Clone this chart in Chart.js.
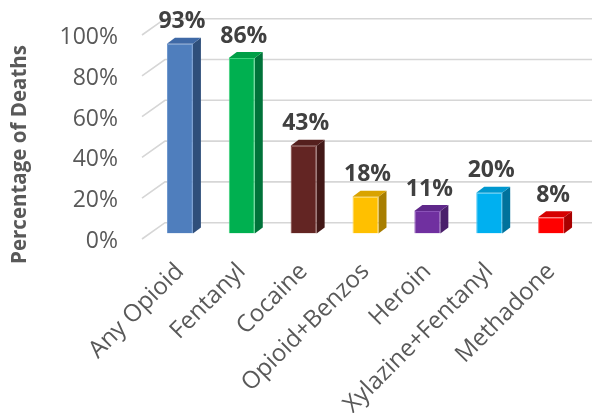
<!DOCTYPE html>
<html>
<head>
<meta charset="utf-8">
<script src="https://cdn.jsdelivr.net/npm/chart.js@4.4.0/dist/chart.umd.min.js"></script>
<style>
  html, body { margin: 0; padding: 0; background: #ffffff; }
  #wrap { width: 594px; height: 413px; }
</style>
</head>
<body>
<div id="wrap"><canvas id="deaths"></canvas></div>
<script>
const categories = ["Any Opioid", "Fentanyl", "Cocaine", "Opioid+Benzos", "Heroin", "Xylazine+Fentanyl", "Methadone"];
const percentages = [93, 86, 43, 18, 11, 20, 8];
const tickValues = [0, 20, 40, 60, 80, 100];

const frontColors = ["#4F7EBD", "#00B050", "#632523", "#FFC000", "#7030A0", "#00B0F0", "#FF0000"];
const sideColors  = ["#2F4F7B", "#00733A", "#421817", "#A87E00", "#4A1F6B", "#00729C", "#A80000"];
const topColors   = ["#3F69A6", "#009F47", "#55201E", "#D9A300", "#5F288A", "#0098CF", "#D60000"];
const edgeColors  = ["#6A94CC", "#3CD27C", "#7A3A37", "#FFD54D", "#8A52B8", "#4CC9F5", "#FF5A5A"];

// depth of each bar (side/top faces) and of the back wall
const BAR_DX = 8, BAR_DY = -6;
const WALL_FRONT = 5.5, WALL_DX = 23, WALL_DY = -16.3;

const textGray = "#595959";

const depthPlugin = {
  id: "depth",
  beforeDatasetsDraw(chart) {
    const ctx = chart.ctx;
    const y = chart.scales.y;
    const left = chart.chartArea.left;

    // floor/wall gridlines with the slanted left wall edge
    ctx.save();
    ctx.strokeStyle = "#D6D6D6";
    ctx.lineWidth = 1.6;
    tickValues.forEach(v => {
      const yf = y.getPixelForValue(v) + WALL_FRONT;
      ctx.beginPath();
      ctx.moveTo(left - 7, yf);
      ctx.lineTo(left - 7 + WALL_DX, yf + WALL_DY);
      ctx.lineTo(chart.width - 2, yf + WALL_DY);
      ctx.stroke();
    });

    // side and top faces of the bars
    const meta = chart.getDatasetMeta(0);
    meta.data.forEach((bar, i) => {
      const xl = bar.x - bar.width / 2;
      const xr = bar.x + bar.width / 2;
      const top = bar.y, base = bar.base;

      ctx.fillStyle = sideColors[i];
      ctx.beginPath();
      ctx.moveTo(xr, base);
      ctx.lineTo(xr + BAR_DX, base + BAR_DY);
      ctx.lineTo(xr + BAR_DX, top + BAR_DY);
      ctx.lineTo(xr, top);
      ctx.closePath();
      ctx.fill();

      ctx.fillStyle = topColors[i];
      ctx.beginPath();
      ctx.moveTo(xl, top);
      ctx.lineTo(xl + BAR_DX, top + BAR_DY);
      ctx.lineTo(xr + BAR_DX, top + BAR_DY);
      ctx.lineTo(xr, top);
      ctx.closePath();
      ctx.fill();
    });
    ctx.restore();
  },
  afterDatasetsDraw(chart) {
    const ctx = chart.ctx;
    const meta = chart.getDatasetMeta(0);
    ctx.save();
    ctx.fillStyle = "#404040";
    ctx.font = "bold 23px 'Open Sans'";
    ctx.textAlign = "center";
    ctx.textBaseline = "middle";
    meta.data.forEach((bar, i) => {
      ctx.fillText(percentages[i] + "%", bar.x + 2, bar.y - 22);
    });
    ctx.restore();
  },
  afterDraw(chart) {
    const ctx = chart.ctx;
    ctx.save();
    ctx.translate(20, 154.5);
    ctx.rotate(-Math.PI / 2);
    ctx.fillStyle = textGray;
    ctx.font = "bold 20.5px 'Open Sans'";
    ctx.textAlign = "center";
    ctx.textBaseline = "middle";
    ctx.fillText("Percentage of Deaths", 0, 0);
    ctx.restore();
  }
};

new Chart(document.getElementById("deaths"), {
  type: "bar",
  data: {
    labels: categories,
    datasets: [{
      data: percentages,
      backgroundColor: frontColors,
      borderColor: edgeColors,
      borderWidth: 1,
      barPercentage: 0.42,
      categoryPercentage: 1
    }]
  },
  options: {
    responsive: true,
    maintainAspectRatio: false,
    animation: false,
    devicePixelRatio: 1,
    layout: { padding: { top: 29.5, right: 12, left: 0, bottom: 0 } },
    plugins: {
      legend: { display: false },
      tooltip: { enabled: false }
    },
    scales: {
      x: {
        grid: { display: false, drawTicks: false },
        border: { display: false },
        ticks: {
          autoSkip: false,
          minRotation: 45,
          maxRotation: 45,
          padding: 24,
          color: textGray,
          font: { family: "'Open Sans'", size: 24 }
        },
        afterFit(scale) {
          scale.height = 179.5;
          scale.paddingLeft = 0;
          scale.paddingRight = 0;
        }
      },
      y: {
        min: 0,
        max: 100,
        grid: { display: false, drawTicks: false },
        border: { display: false },
        ticks: {
          stepSize: 20,
          padding: 31,
          labelOffset: 8,
          color: textGray,
          font: { family: "'Open Sans'", size: 23 },
          callback: v => v + "%"
        },
        afterFit(scale) {
          scale.width = 149;
          scale.paddingTop = 0;
          scale.paddingBottom = 0;
        }
      }
    }
  },
  plugins: [depthPlugin]
});
</script>
</body>
</html>
